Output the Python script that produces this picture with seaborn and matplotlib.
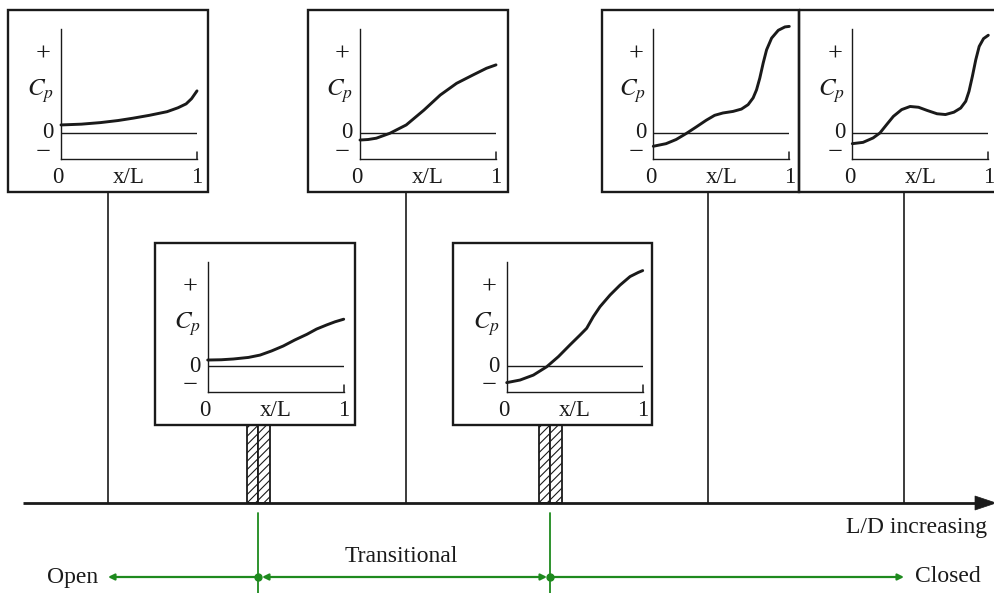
import matplotlib
matplotlib.use("Agg")
import matplotlib.pyplot as plt
import seaborn as sns
from matplotlib.patches import Rectangle, Polygon

# ---------------- data ----------------
# panel 1 (open, short cavity)
x_p1 = [0, 0.15, 0.29, 0.42, 0.53, 0.65, 0.78, 0.86, 0.92, 0.96, 1.0]
cp_p1 = [0.31, 0.34, 0.40, 0.48, 0.57, 0.68, 0.82, 0.97, 1.12, 1.32, 1.62]
# panel 2 (lower left, transitional start)
x_p2 = [0, 0.10, 0.19, 0.30, 0.385, 0.47, 0.556, 0.64, 0.73, 0.80, 0.875, 0.936, 1.0]
cp_p2 = [0.23, 0.24, 0.27, 0.33, 0.42, 0.58, 0.77, 1.00, 1.22, 1.42, 1.58, 1.70, 1.80]
# panel 3 (top middle, transitional)
x_p3 = [0, 0.06, 0.12, 0.22, 0.34, 0.47, 0.59, 0.71, 0.83, 0.93, 1.0]
cp_p3 = [-0.27, -0.25, -0.20, -0.01, 0.31, 0.88, 1.46, 1.91, 2.23, 2.49, 2.62]
# panel 4 (lower right, transitional end)
x_p4 = [0, 0.098, 0.196, 0.294, 0.380, 0.465, 0.539, 0.588, 0.637, 0.686, 0.76, 0.833, 0.907, 0.968, 1.0]
cp_p4 = [-0.64, -0.54, -0.35, -0.03, 0.36, 0.81, 1.19, 1.45, 1.90, 2.28, 2.73, 3.11, 3.44, 3.60, 3.67]
# panel 5 (closed)
x_p5 = [0, 0.094, 0.168, 0.242, 0.315, 0.389, 0.451, 0.512, 0.586, 0.648, 0.697, 0.734, 0.759,
        0.783, 0.808, 0.833, 0.870, 0.919, 0.968, 1.0]
cp_p5 = [-0.51, -0.41, -0.25, -0.02, 0.23, 0.49, 0.68, 0.77, 0.83, 0.92, 1.09, 1.35, 1.66,
         2.11, 2.69, 3.20, 3.65, 3.95, 4.08, 4.10]
# panel 6 (closed, longest)
x_p6 = [0, 0.079, 0.153, 0.203, 0.252, 0.302, 0.363, 0.425, 0.487, 0.549, 0.623, 0.685, 0.747,
        0.797, 0.834, 0.858, 0.883, 0.908, 0.933, 0.965, 1.0]
cp_p6 = [-0.41, -0.36, -0.19, 0.0, 0.32, 0.64, 0.90, 1.02, 0.99, 0.87, 0.74, 0.71, 0.80,
         0.96, 1.22, 1.60, 2.18, 2.82, 3.33, 3.63, 3.76]

y_tick_labels = ["+", "0", "\u2212"]
x_tick_labels = ["0", "x/L", "1"]
regime_labels = ["Open", "Transitional", "Closed"]
axis_label = "L/D increasing"

# ---------------- style ----------------
sns.set_theme(style="white")
plt.rcParams["font.family"] = ["Liberation Serif", "DejaVu Serif"]
plt.rcParams["mathtext.fontset"] = "stix"

INK = "#1a1a1a"
GREEN = "#1e8a1e"
FS = 16.5

W, H = 994, 593
fig = plt.figure(figsize=(W / 100, H / 100), dpi=100)
ax = fig.add_axes([0, 0, 1, 1])
ax.set_xlim(0, W)
ax.set_ylim(H, 0)
ax.axis("off")

BOX_H = 182
AX_W, AX_H, AX_TOP = 136, 130, 19


def panel(bx0, by0, bx1, axis_x, xs, ys):
    ax.add_patch(Rectangle((bx0, by0), bx1 - bx0, BOX_H, fill=False,
                           lw=1.7, ec=INK, zorder=3))
    ay0 = by0 + AX_TOP
    iax = fig.add_axes([axis_x / W, 1 - (ay0 + AX_H) / H, AX_W / W, AX_H / H])
    iax.set_xlim(0, 1)
    iax.set_ylim(-1, 4)
    iax.patch.set_alpha(0)
    for s in ["top", "right"]:
        iax.spines[s].set_visible(False)
    for s in ["left", "bottom"]:
        iax.spines[s].set_linewidth(1.0)
        iax.spines[s].set_color(INK)
    iax.set_xticks([])
    iax.set_yticks([])
    iax.axhline(0, color=INK, lw=1.0)
    iax.plot([1, 1], [-1, -0.72], color=INK, lw=1.1, clip_on=False)
    sns.lineplot(x=xs, y=ys, ax=iax, color=INK, lw=2.1, clip_on=False)
    iax.set_xlabel("")
    iax.set_ylabel("")
    # y labels
    iax.text(-0.13, 3.0, y_tick_labels[0], ha="center", va="center", fontsize=FS + 2.5, color=INK)
    iax.text(-0.095, 0.0, y_tick_labels[1], ha="center", va="center", fontsize=FS, color=INK)
    iax.text(-0.13, -0.78, y_tick_labels[2], ha="center", va="center", fontsize=FS + 2.5, color=INK)
    iax.text(-0.15, 1.6, r"$C_p$", ha="center", va="center", fontsize=FS + 1.5, color=INK)
    # x labels
    iax.text(-0.02, -1.7, x_tick_labels[0], ha="center", va="center", fontsize=FS, color=INK)
    iax.text(0.50, -1.7, x_tick_labels[1], ha="center", va="center", fontsize=FS, color=INK)
    iax.text(1.0, -1.7, x_tick_labels[2], ha="center", va="center", fontsize=FS, color=INK)


# top row
panel(8, 10, 208, 61, x_p1, cp_p1)
panel(308, 10, 508, 360, x_p3, cp_p3)
panel(601.7, 10, 799.3, 653.3, x_p5, cp_p5)
panel(799.3, 10, 1000, 852.3, x_p6, cp_p6)
# lower row
panel(155, 243, 355, 207.7, x_p2, cp_p2)
panel(453, 243, 652, 506.7, x_p4, cp_p4)

BASE = 503
# connectors from top boxes to base line
for cx in [108, 406, 708, 904]:
    ax.plot([cx, cx], [192, BASE], color=INK, lw=1.2)

# hatched posts under the lower boxes
plt.rcParams["hatch.linewidth"] = 0.8
for px0, px1 in [(246.7, 270), (539, 561.7)]:
    mid = (px0 + px1) / 2
    for a, b in [(px0, mid), (mid, px1)]:
        ax.add_patch(Rectangle((a, 425), b - a, BASE - 425, facecolor="white",
                               edgecolor=INK, lw=1.3, hatch="////", zorder=2))

# base axis with arrow head
ax.plot([23, 978], [BASE, BASE], color=INK, lw=2.0, solid_capstyle="butt")
ax.add_patch(Polygon([[975, BASE - 7], [996, BASE], [975, BASE + 7]],
                     closed=True, facecolor=INK, edgecolor=INK, lw=0.5))
ax.text(987, 527, axis_label, ha="right", va="center", fontsize=FS + 0.5, color=INK)

# regime markers (green)
GY = 577
for gx in [258, 550]:
    ax.plot([gx, gx], [513, H], color=GREEN, lw=1.3)
    ax.plot([gx], [GY], "o", color=GREEN, ms=5)

arrow_kw = dict(arrowstyle="-|>", color=GREEN, lw=1.6, mutation_scale=9,
                shrinkA=0, shrinkB=0)
ax.annotate("", xy=(108, GY), xytext=(256, GY), arrowprops=arrow_kw)
ax.annotate("", xy=(904, GY), xytext=(552, GY), arrowprops=arrow_kw)
ax.annotate("", xy=(262, GY), xytext=(547, GY),
            arrowprops=dict(arrowstyle="<|-|>", color=GREEN, lw=1.6,
                            mutation_scale=9, shrinkA=0, shrinkB=0))

ax.text(98, GY, regime_labels[0], ha="right", va="center", fontsize=FS + 0.5, color=INK)
ax.text(401, 557, regime_labels[1], ha="center", va="center", fontsize=FS + 0.5, color=INK)
ax.text(915, GY, regime_labels[2], ha="left", va="center", fontsize=FS + 0.5, color=INK)

fig.savefig("out.png", dpi=100, facecolor="white")
